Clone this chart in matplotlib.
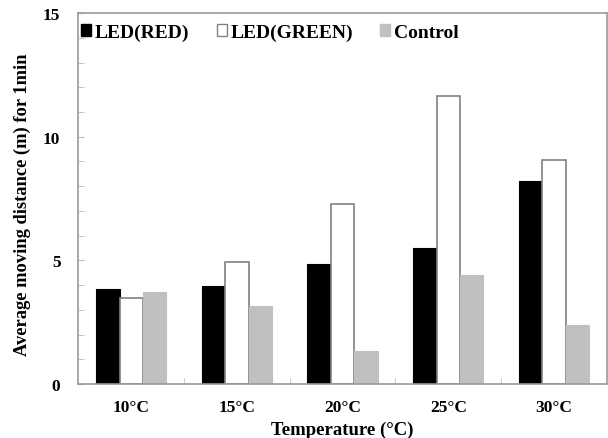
import matplotlib
matplotlib.use("Agg")
import matplotlib.pyplot as plt
import numpy as np
from matplotlib.ticker import MultipleLocator
from matplotlib.patches import Patch

categories = ["10°C", "15°C", "20°C", "25°C", "30°C"]
led_red = [3.83, 3.98, 4.85, 5.48, 8.22]
led_green = [3.47, 4.92, 7.28, 11.66, 9.05]
control = [3.71, 3.15, 1.35, 4.42, 2.39]
series_names = ["LED(RED)", "LED(GREEN)", "Control"]

plt.rcParams['font.family'] = ['Liberation Serif', 'DejaVu Serif']
plt.rcParams['font.weight'] = 'bold'

fig = plt.figure(figsize=(6.08, 4.39), dpi=100)
ax = fig.add_axes([0.129, 0.123, 0.869, 0.845])

x = np.arange(1, len(categories) + 1)
w = 0.222
edge = '#808080'
ax.bar(x - w, led_red, w, color='black', edgecolor='black', linewidth=0.8, label=series_names[0])
ax.bar(x, led_green, w, color='white', edgecolor=edge, linewidth=1.2, label=series_names[1])
ax.bar(x + w, control, w, color='#c0c0c0', edgecolor='#c0c0c0', linewidth=0.8, label=series_names[2])

ax.set_xlim(0.5, 5.5)
ax.set_ylim(0, 15)
ax.yaxis.set_major_locator(MultipleLocator(5))
ax.yaxis.set_minor_locator(MultipleLocator(1))
ax.set_xticks(x)
ax.set_xticklabels(categories, fontsize=12.5, fontweight='bold')
ax.set_xticks(np.arange(1.5, 5.5, 1), minor=True)
ax.tick_params(axis='x', which='major', length=0, pad=11)
ax.tick_params(axis='x', which='minor', direction='in', length=4, color='#bbbbbb')
ax.tick_params(axis='y', which='both', direction='in', length=4, color='#bbbbbb', pad=13, labelsize=12.5)
for lab in ax.get_yticklabels():
    lab.set_fontweight('bold')

for s in ax.spines.values():
    s.set_color('#999999')
    s.set_linewidth(1.2)

ax.set_xlabel("Temperature (°C)", fontsize=13.5, fontweight='bold', labelpad=4)
ax.set_ylabel("Average moving distance (m) for 1min", fontsize=13.3, fontweight='bold', labelpad=3)
ax.yaxis.set_label_coords(-0.09, 0.485)

handles = [Patch(facecolor='black', edgecolor='black'),
           Patch(facecolor='white', edgecolor=edge),
           Patch(facecolor='#c0c0c0', edgecolor='#c0c0c0')]
leg = ax.legend(handles, series_names, loc='upper left', ncol=3, frameon=False,
                prop={'weight': 'bold', 'size': 14}, handlelength=0.5, handleheight=0.5,
                handletextpad=0.2, columnspacing=1.4, bbox_to_anchor=(-0.02, 1.008),
                borderaxespad=0.3)

fig.savefig("out.png", dpi=100)
